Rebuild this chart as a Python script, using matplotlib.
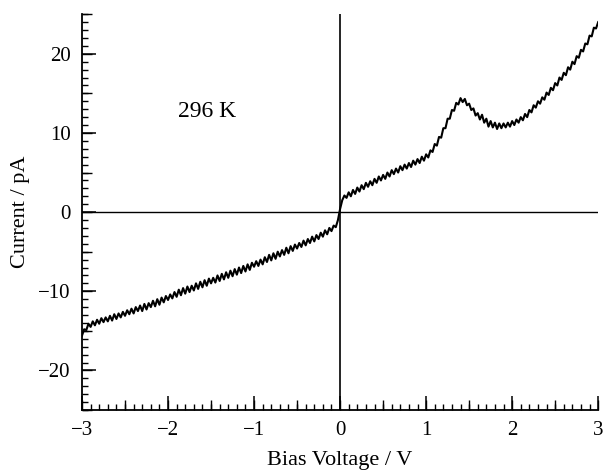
import numpy as np
import matplotlib
matplotlib.use("Agg")
import matplotlib.pyplot as plt
from matplotlib.ticker import MultipleLocator

plt.rcParams['font.family'] = ['Liberation Serif', 'DejaVu Serif']

# ---------------------------------------------------------------------------
# data (I-V trace at 296 K), 0.025 V grid from -3 to 3 V
# ---------------------------------------------------------------------------
bias_voltage = np.linspace(-3.0, 3.0, 241)
current_pA = [
    # -3.000 .. -2.525
    -15.6, -14.8, -14.9, -14.1, -14.5, -13.8, -14.3, -13.6, -14.1, -13.4,
    -13.9, -13.3, -13.8, -13.1, -13.7, -12.9, -13.5, -12.8, -13.3, -12.6,
    # -2.500 .. -2.025
    -13.1, -12.4, -12.9, -12.2, -12.8, -12.0, -12.5, -11.8, -12.5, -11.6,
    -12.3, -11.5, -12.0, -11.2, -11.9, -11.0, -11.7, -10.8, -11.4, -10.6,
    # -2.000 .. -1.525
    -11.1, -10.4, -10.9, -10.1, -10.7, -9.8, -10.5, -9.6, -10.3, -9.4,
    -10.1, -9.3, -9.9, -9.0, -9.7, -8.8, -9.5, -8.6, -9.3, -8.4,
    # -1.500 .. -1.025
    -9.0, -8.3, -8.9, -8.0, -8.7, -7.8, -8.5, -7.6, -8.3, -7.4,
    -8.1, -7.2, -7.9, -7.0, -7.7, -6.8, -7.5, -6.6, -7.3, -6.4,
    # -1.000 .. -0.525
    -6.9, -6.2, -6.8, -6.0, -6.6, -5.7, -6.3, -5.4, -6.1, -5.2,
    -5.9, -5.0, -5.6, -4.8, -5.4, -4.5, -5.2, -4.3, -4.9, -4.1,
    # -0.500 .. -0.025
    -4.6, -3.9, -4.4, -3.6, -4.2, -3.4, -3.9, -3.1, -3.7, -2.9,
    -3.4, -2.6, -3.1, -2.3, -2.8, -2.0, -2.4, -1.7, -1.9, -1.0,
    # 0.000 .. 0.475
    0.4, 1.5, 2.1, 1.8, 2.5, 2.0, 2.8, 2.3, 3.1, 2.6,
    3.4, 2.9, 3.7, 3.2, 3.9, 3.4, 4.2, 3.7, 4.5, 4.0,
    # 0.500 .. 0.975
    4.7, 4.2, 5.0, 4.5, 5.3, 4.8, 5.5, 5.0, 5.8, 5.3,
    6.0, 5.5, 6.2, 5.7, 6.5, 6.0, 6.7, 6.2, 7.0, 6.5,
    # 1.000 .. 1.475
    7.3, 6.9, 7.8, 7.6, 8.6, 8.4, 9.5, 9.4, 10.6, 10.6,
    11.8, 11.8, 12.9, 12.8, 13.8, 13.6, 14.4, 13.9, 14.3, 13.5,
    # 1.500 .. 1.975
    13.7, 12.9, 13.1, 12.2, 12.5, 11.7, 12.3, 11.3, 11.8, 10.8,
    11.5, 10.7, 11.3, 10.5, 11.2, 10.6, 11.2, 10.7, 11.3, 10.8,
    # 2.000 .. 2.475
    11.5, 11.0, 11.7, 11.3, 12.0, 11.6, 12.4, 12.0, 12.9, 12.6,
    13.5, 13.2, 14.0, 13.7, 14.5, 14.2, 15.1, 14.8, 15.7, 15.4,
    # 2.500 .. 2.975
    16.3, 16.0, 17.0, 16.7, 17.6, 17.3, 18.3, 18.0, 19.0, 18.7,
    19.7, 19.5, 20.5, 20.3, 21.3, 21.2, 22.3, 22.2, 23.3, 23.2,
    # 3.000
    24.0,
]
temperature_label = "296 K"

fig = plt.figure(figsize=(6.03, 4.74), dpi=100)
rect = [0.136, 0.135, 0.856, 0.835]
ax = fig.add_axes(rect)

ax.plot(bias_voltage, current_pA, color="black", lw=1.5)
ax.axhline(0, xmax=0.997, color="black", lw=1.0)
ax.axvline(0, color="black", lw=1.2)

ax.set_xlim(-3, 3)
ax.set_ylim(-25, 25)
for side in ("top", "right"):
    ax.spines[side].set_visible(False)
for side in ("left", "bottom"):
    ax.spines[side].set_linewidth(1.3)

ax.xaxis.set_major_locator(MultipleLocator(1))
ax.xaxis.set_minor_locator(MultipleLocator(0.1))
ax.yaxis.set_major_locator(MultipleLocator(10))
ax.yaxis.set_minor_locator(MultipleLocator(1))
ax.tick_params(which="major", direction="in", length=10, width=1.1,
               labelsize=15, pad=8)
ax.tick_params(which="minor", direction="in", length=4, width=1.0)
ax.tick_params(top=False, right=False, which="both")

ax.set_xticks([-3, -2, -1, 0, 1, 2, 3])
ax.set_xticklabels(["\u22123", "\u22122", "\u22121", "0", "1", "2", "3"])
ax.set_yticks([-20, -10, 0, 10, 20])
ax.set_yticklabels(["\u221220", "\u221210", "0", "10", "20"])

ax.set_xlabel("Bias Voltage / V", fontsize=16, labelpad=8)
ax.set_ylabel("Current / pA", fontsize=16, labelpad=6)

ax.text(-1.88, 12.7, temperature_label, fontsize=17, va="center")

# medium-length ticks at the half steps (0.5 V, 5 pA), on an overlay axes
ax2 = fig.add_axes(rect)
ax2.set_xlim(-3, 3)
ax2.set_ylim(-25, 25)
ax2.set_frame_on(False)
ax2.patch.set_visible(False)
ax2.xaxis.set_major_locator(MultipleLocator(0.5))
ax2.yaxis.set_major_locator(MultipleLocator(5))
ax2.minorticks_off()
ax2.tick_params(which="major", direction="in", length=7, width=1.0,
                labelbottom=False, labelleft=False)
ax2.tick_params(top=False, right=False)

fig.savefig("out.png", dpi=100)
